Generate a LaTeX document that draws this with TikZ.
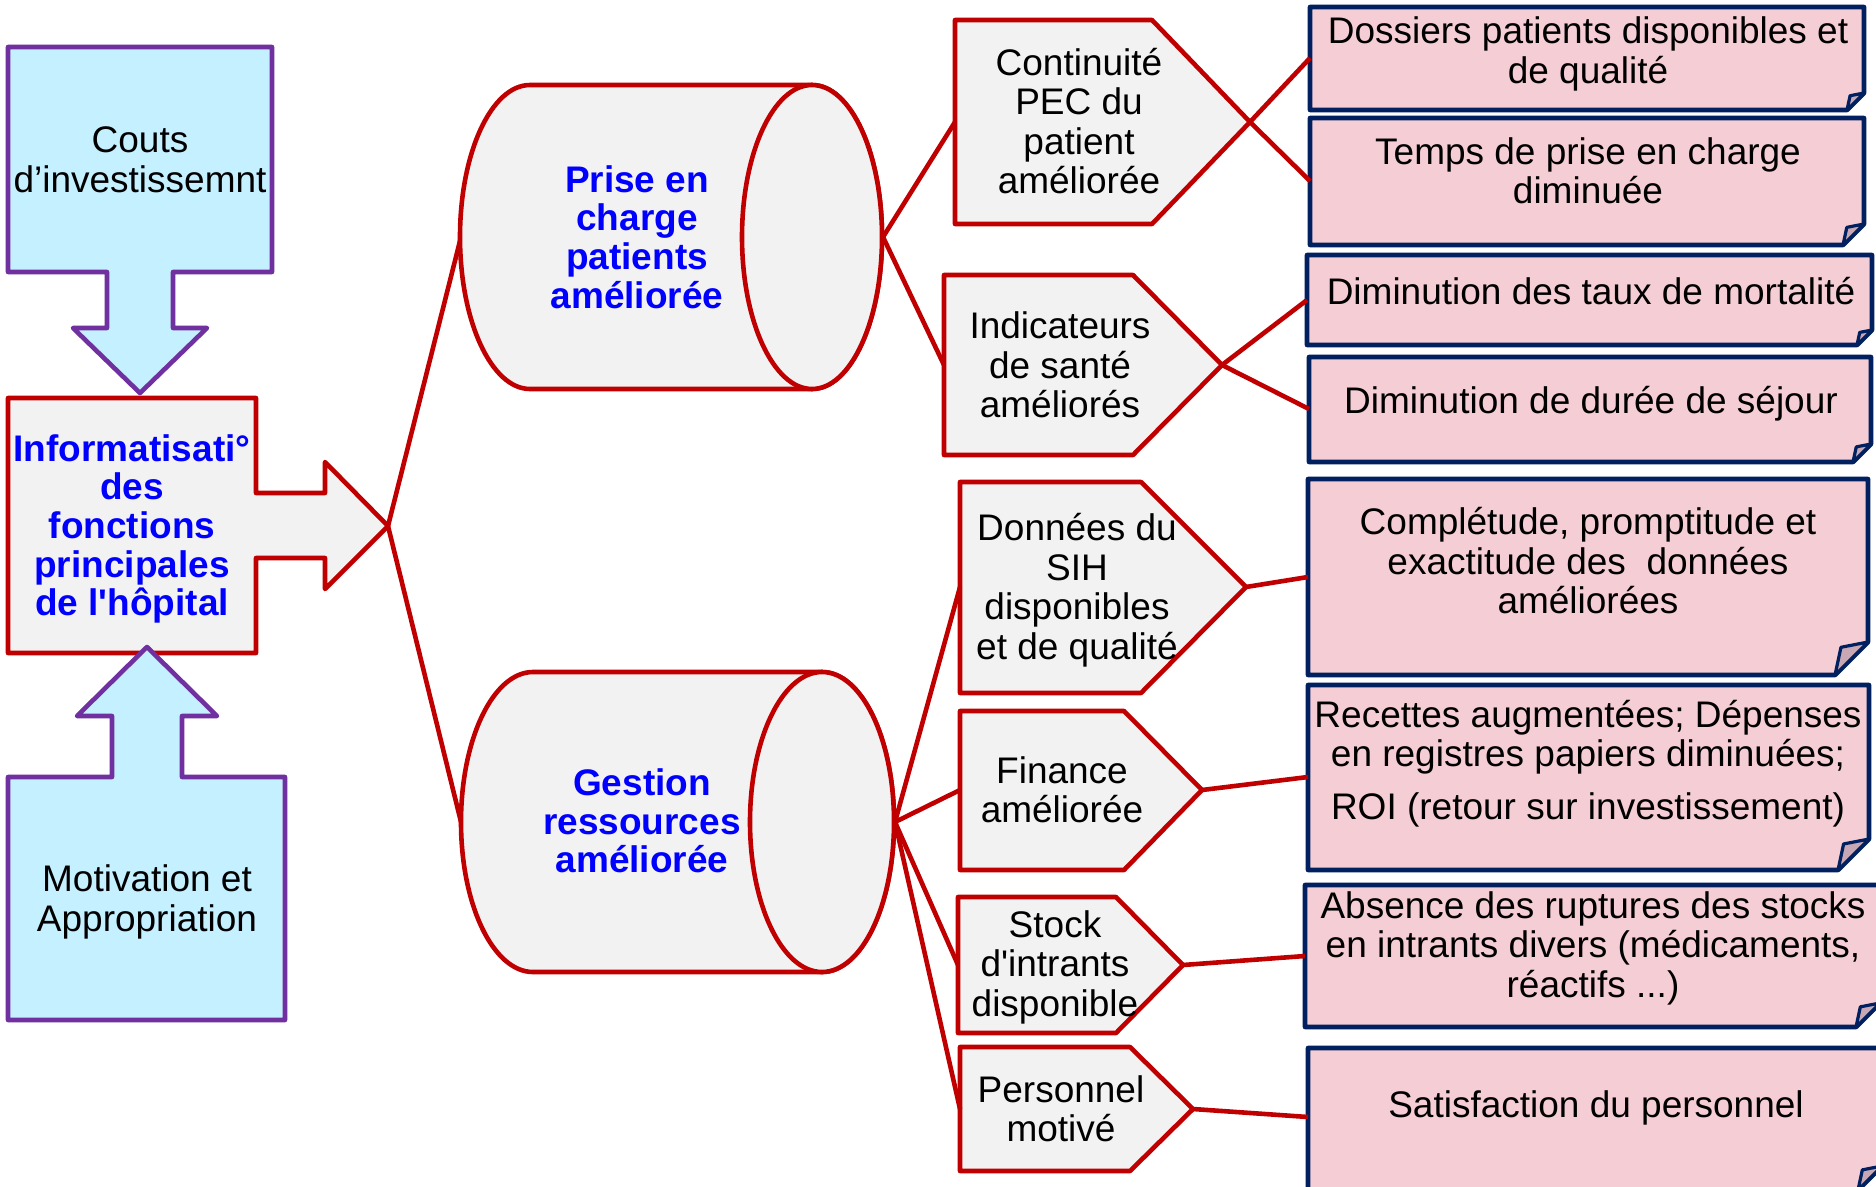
\documentclass[tikz,border=0pt]{standalone}
\usepackage{fontspec}
\setmainfont{Liberation Sans}[Ligatures=TeXOff]
\definecolor{cred}{HTML}{C00000}
\definecolor{cgray}{HTML}{F2F2F2}
\definecolor{cpur}{HTML}{7030A0}
\definecolor{ccyan}{HTML}{C5F0FF}
\definecolor{cpink}{HTML}{F5CDD5}
\definecolor{cnavy}{HTML}{002060}
\definecolor{cfold}{HTML}{C8A8B4}
\definecolor{cblue}{HTML}{0000FF}
\newcommand{\pentashape}[7]{% name, x1, y1, xc, xt, y2, ymid
  \draw[redsh] (#2,#3) -- (#4,#3) -- (#5,#7) -- (#4,#6) -- (#2,#6) -- cycle;
  \coordinate (#1W) at (#2,#7);
  \coordinate (#1E) at (#5,#7);
}
\newcommand{\foldbox}[7]{% name, x1, y1, x2, y2, f, ymid
  \draw[pinksh] (#2,#3) -- (#4,#3) -- (#4,#5-#6) -- (#4-#6,#5) -- (#2,#5) -- cycle;
  \draw[foldsh] (#4,#5-#6) -- (#4-0.82*#6,#5-0.84*#6) -- (#4-#6,#5) -- cycle;
  \coordinate (#1W) at (#2,#7);
}
\newcommand{\cylshape}[8]{% name, xl, xr, ytop, ybot, rx, ry, ymid
  \draw[redsh] (#2,#4) -- (#3,#4) arc[start angle=-90,end angle=90,x radius=#6,y radius=#7]
     -- (#2,#5) arc[start angle=90,end angle=270,x radius=#6,y radius=#7] -- cycle;
  \draw[redsh] (#3,#8) ellipse[x radius=#6, y radius=#7];
  \coordinate (#1W) at (#2-#6,#8);
  \coordinate (#1E) at (#3+#6,#8);
}
\begin{document}
\begin{tikzpicture}[x=1pt,y=-1pt, line join=round,
  redsh/.style={draw=cred, fill=cgray, line width=4.6pt},
  pursh/.style={draw=cpur, fill=ccyan, line width=4.6pt},
  pinksh/.style={draw=cnavy, fill=cpink, line width=4.6pt},
  foldsh/.style={draw=cnavy, fill=cfold, line width=3.2pt},
  conn/.style={draw=cred, line width=4.6pt},
  txt/.style={font=\fontsize{37}{39.5}\selectfont, align=center, inner sep=0pt},
  btxt/.style={font=\fontsize{37}{38.7}\selectfont\bfseries, align=center, inner sep=0pt, text=cblue}]
\useasboundingbox (0,0) rectangle (1876,1186);
\fill[white] (0,0) rectangle (1876,1186);

\coordinate (infoTip) at (388,526);
\coordinate (cyl1Wp) at (461,237);
\coordinate (cyl2Wp) at (461,822);
\coordinate (cyl1Ep) at (883,237);
\coordinate (cyl2Ep) at (895,822);

% Couts arrow
\draw[pursh] (8,47) -- (272,47) -- (272,272) -- (173,272) -- (173,328) -- (207,328) -- (140,393)
  -- (73,328) -- (107,328) -- (107,272) -- (8,272) -- cycle;
\node[txt] (couts) at (140,160) {Couts\\d’investissemnt};

% Informatisation arrow
\draw[redsh] (8,398) -- (256,398) -- (256,493) -- (325,493) -- (325,462) -- (388,526)
  -- (325,589) -- (325,558) -- (256,558) -- (256,653) -- (8,653) -- cycle;
\node[btxt] (info) at (132,529) {Informatisati°\\des\\fonctions\\principales\\de l'hôpital};

% Motivation arrow
\draw[pursh] (8,777) -- (112,777) -- (112,716) -- (77,716) -- (147,647) -- (217,716)
  -- (182,716) -- (182,777) -- (285,777) -- (285,1020) -- (8,1020) -- cycle;
\node[txt] (motiv) at (147,902) {Motivation et\\Appropriation};

\draw[conn] (infoTip) -- (cyl1Wp);
\draw[conn] (infoTip) -- (cyl2Wp);

% cylinders
\cylshape{cyla}{530}{812}{85}{389}{70}{152}{237}
\node[btxt] (prise) at (637,237) {Prise en\\charge\\patients\\améliorée};
\cylshape{cylb}{533}{822}{672}{972}{72}{150}{822}
\node[btxt] (gestion) at (642,821) {Gestion\\ressources\\améliorée};

% pentagons
\pentashape{cont}{955}{20}{1152}{1250}{224}{122}
\pentashape{indic}{944}{275}{1133}{1222}{455}{365}
\pentashape{donn}{960}{482}{1141}{1246}{693}{587}
\pentashape{fin}{960}{711}{1124}{1202}{870}{790}
\pentashape{stock}{958}{897}{1116}{1183}{1033}{965}
\pentashape{pers}{960}{1047}{1130}{1193}{1171}{1109}

\node[txt] (contT) at (1079,121) {Continuité\\PEC du\\patient\\améliorée};
\node[txt] (indicT) at (1060,365) {Indicateurs\\de santé\\améliorés};
\node[txt] (donnT) at (1077,590) {Données du\\SIH\\disponibles\\et de qualité};
\node[txt] (finT) at (1062,790) {Finance\\améliorée};
\node[txt] (stockT) at (1055,967) {Stock\\d'intrants\\disponible};
\node[txt] (persT) at (1061,1109) {Personnel\\motivé};

% pink boxes
\foldbox{doss}{1310}{7}{1864}{110}{17}{58}
\foldbox{temps}{1310}{118}{1864}{245}{21}{181}
\foldbox{taux}{1307}{255}{1872}{345}{15}{300}
\foldbox{duree}{1309}{357}{1871}{462}{18}{409}
\foldbox{compl}{1308}{479}{1868}{675}{33}{577}
\foldbox{rec}{1308}{685}{1869}{870}{31}{777}
\foldbox{abs}{1305}{885}{1880}{1027}{24}{956}
\foldbox{sat}{1308}{1048}{1882}{1190}{24}{1117}

\node[txt] (dossT) at (1588,54) {Dossiers patients disponibles et\\de qualité};
\node[txt] (tempsT) at (1588,171) {Temps de prise en charge\\diminuée};
\node[txt] (tauxT) at (1591,291) {Diminution des taux de mortalité};
\node[txt] (dureeT) at (1591,404) {Diminution de durée de séjour};
\node[txt] (complT) at (1588,561) {Complétude, promptitude et\\exactitude des\ \ données\\améliorées};
\node[txt] (recT) at (1588,737) {Recettes augmentées; Dépenses\\en registres papiers diminuées;};
\node[txt] (roiT) at (1588,810) {ROI (retour sur investissement)};
\node[txt] (absT) at (1593,948) {Absence des ruptures des stocks\\en intrants divers (médicaments,\\réactifs ...)};
\node[txt] (satT) at (1596,1108) {Satisfaction du personnel};

% connectors right side
\draw[conn] (cyl1Ep) -- (contW);
\draw[conn] (cyl1Ep) -- (indicW);
\draw[conn] (cyl2Ep) -- (donnW);
\draw[conn] (cyl2Ep) -- (finW);
\draw[conn] (cyl2Ep) -- (stockW);
\draw[conn] (cyl2Ep) -- (persW);
\draw[conn] (contE) -- (dossW);
\draw[conn] (contE) -- (tempsW);
\draw[conn] (indicE) -- (tauxW);
\draw[conn] (indicE) -- (dureeW);
\draw[conn] (donnE) -- (complW);
\draw[conn] (finE) -- (recW);
\draw[conn] (stockE) -- (absW);
\draw[conn] (persE) -- (satW);
\end{tikzpicture}
\end{document}
